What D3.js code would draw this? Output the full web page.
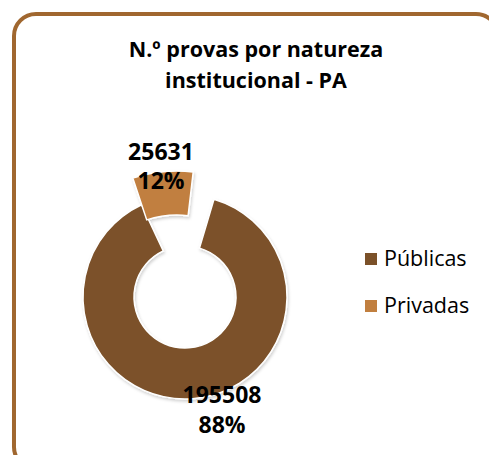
<!DOCTYPE html>
<html>
<head>
<meta charset="utf-8">
<script src="https://cdn.jsdelivr.net/npm/d3@7/dist/d3.min.js"></script>
<style>
  html, body { margin: 0; padding: 0; background: #fff; }
  svg { display: block; }
</style>
</head>
<body>
<script>
// ---- data ----
const categories = ["Públicas", "Privadas"];
const values = [195508, 25631];
const percentLabels = ["88%", "12%"];
const titleLines = ["N.º provas por natureza", "institucional - PA"];
const colors = ["#7b5129", "#c17f3f"];

const W = 489, H = 455;
const FONT = "'Open Sans', Lato, sans-serif";
const svg = d3.select("body").append("svg").attr("width", W).attr("height", H);

const defs = svg.append("defs");
const f = defs.append("filter").attr("id", "sh").attr("x", "-20%").attr("y", "-20%").attr("width", "140%").attr("height", "140%");
f.append("feDropShadow").attr("dx", 1).attr("dy", 2).attr("stdDeviation", 1.5).attr("flood-color", "#000").attr("flood-opacity", 0.18);

// frame
svg.append("rect").attr("x", 14).attr("y", 14).attr("width", 484).attr("height", 455)
  .attr("rx", 22).attr("fill", "#fff").attr("stroke", "#a0672f").attr("stroke-width", 4);

// title
const title = svg.append("text").attr("text-anchor", "middle")
  .attr("font-family", FONT).attr("font-weight", "bold")
  .attr("font-size", 21.5).attr("fill", "#000");
titleLines.forEach((t, i) => {
  title.append("tspan").attr("x", 256).attr("y", 57 + i * 31).text(t);
});

// donut
const cx = 185, cy = 297;
const rOuter = 102, rInner = 51;
const start = 16.5 * Math.PI / 180;
const pie = d3.pie().sort(null).value(d => d).startAngle(start).endAngle(start + 2 * Math.PI);
const arcs = pie(values);
const arc = d3.arc().innerRadius(rInner).outerRadius(rOuter);

const g = svg.append("g").attr("transform", `translate(${cx},${cy})`).attr("filter", "url(#sh)");

// main slice (Públicas)
g.append("path").attr("d", arc(arcs[0])).attr("fill", colors[0])
  .attr("stroke", "#fff").attr("stroke-width", 1.5);

// exploded slice (Privadas)
const a1 = arcs[1];
const mid = (a1.startAngle + a1.endAngle) / 2 - 1.5 * Math.PI / 180;
const half = (a1.endAngle - a1.startAngle) / 2 * 0.6;
const ex = { startAngle: mid - half, endAngle: mid + half };
const exArc = d3.arc().innerRadius(96).outerRadius(140);
g.append("g").attr("transform", "translate(-8,14)")
  .append("path").attr("d", exArc(ex)).attr("fill", colors[1])
  .attr("stroke", "#fff").attr("stroke-width", 1.5);

// data labels
const lab = svg.append("g").attr("font-family", FONT)
  .attr("font-weight", "bold").attr("font-size", 23).attr("text-anchor", "middle").attr("fill", "#000");
const fmt = d3.format("d");
const labelPos = [[222, 403, 433], [161, 160, 189]];
values.forEach((v, i) => {
  lab.append("text").attr("x", labelPos[i][0]).attr("y", labelPos[i][1]).text(fmt(v));
  lab.append("text").attr("x", labelPos[i][0]).attr("y", labelPos[i][2]).text(percentLabels[i]);
});

// legend
const leg = svg.append("g").attr("font-family", FONT).attr("font-size", 21.5);
categories.forEach((c, i) => {
  const y = 253 + i * 47;
  leg.append("rect").attr("x", 365).attr("y", y).attr("width", 12).attr("height", 12).attr("fill", colors[i]);
  leg.append("text").attr("x", 384).attr("y", y + 13).attr("fill", "#000").text(c);
});
</script>
</body>
</html>
